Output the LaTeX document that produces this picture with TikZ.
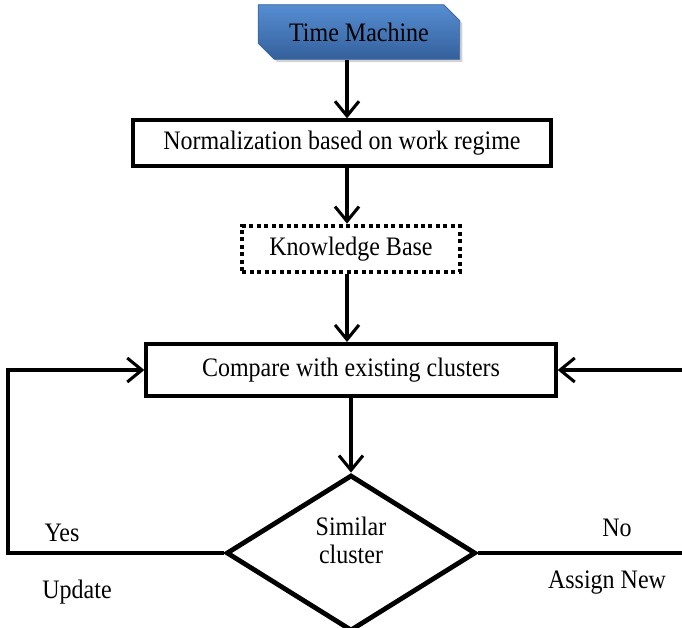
\documentclass[tikz,border=0pt]{standalone}
\usepackage{fontspec}
\setmainfont{Liberation Serif}[FakeStretch=0.9]
\usetikzlibrary{arrows.meta,shapes.geometric,shapes.misc,shadows}
\definecolor{TM1}{RGB}{86,142,210}
\definecolor{TM2}{RGB}{52,96,156}
\definecolor{TMb}{RGB}{60,100,155}
\begin{document}
\begin{tikzpicture}[x=0.75pt,y=-0.75pt,
    font=\fontsize{20}{21}\selectfont,
    box/.style={draw, line width=3pt, inner sep=0pt},
    flow/.style={line width=2.3pt, -{Straight Barb[length=11pt,width=18pt,line width=2.3pt]}},
    wire/.style={line width=2.3pt}]
  \useasboundingbox (0,0) rectangle (682,628);
  \node[chamfered rectangle, chamfered rectangle corners={north east,south west},
        chamfered rectangle xsep=6pt, chamfered rectangle ysep=6pt,
        top color=TM1, bottom color=TM2, draw=TMb, line width=0.6pt,
        drop shadow={shadow xshift=2pt,shadow yshift=-2pt,opacity=0.35},
        minimum width=151pt, minimum height=41pt, inner sep=0pt] (tm) at (359,32) {Time Machine};
  \node[box, minimum width=313pt, minimum height=34pt] (norm) at (342,143) {Normalization based on work regime};
  \node[draw, line width=3pt, dash pattern=on 3pt off 2.6pt, minimum width=163pt, minimum height=35pt, inner sep=0pt] (kb) at (351,249) {Knowledge Base};
  \node[box, minimum width=307pt, minimum height=39pt] (cmp) at (351,370) {Compare with existing clusters};
  \node[diamond, draw, line width=3.6pt, minimum width=187pt, minimum height=117pt, inner sep=0pt] (sim) at (351,553) {};
  \node[align=center] (simtxt) at (351,540) {Similar\\cluster};
  \node (yes) at (62,533) {Yes};
  \node (upd) at (77,592) {Update};
  \node (no) at (617,528) {No};
  \node (asg) at (607,583) {Assign New};
  \coordinate (col) at (347,0);
  \coordinate (lc) at (8,553);
  \coordinate (rlow) at (682,553);
  \coordinate (rhigh) at (682,370);
  \draw[flow] (tm.south -| col) -- (norm.north -| col);
  \draw[flow] (norm.south -| col) -- (kb.north -| col);
  \draw[flow] (kb.south -| col) -- (cmp.north -| col);
  \draw[flow] (cmp) -- (sim);
  \draw[flow] (sim.west) -- (lc) |- (cmp.west);
  \draw[wire] (sim.east) -- (rlow);
  \draw[flow] (rhigh) -- (cmp.east);
\end{tikzpicture}
\end{document}
